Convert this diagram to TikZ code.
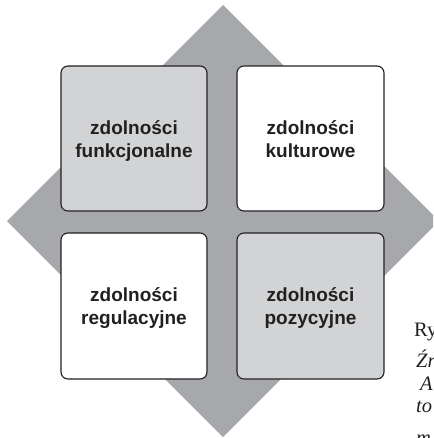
\documentclass[tikz,border=0pt]{standalone}
\usepackage{fontspec}
\setmainfont{Liberation Serif}
\newfontfamily\boxfont{Liberation Sans}
\definecolor{diamondgray}{HTML}{A6A8AB}
\definecolor{boxgray}{HTML}{D1D3D4}
\definecolor{inkdark}{HTML}{231F20}
\begin{document}
\begin{tikzpicture}[x=1pt,y=-1pt,
  cardbox/.style={draw=inkdark,line width=1.1pt,rounded corners=7pt},
  cardlabel/.style={anchor=north,inner sep=0pt,align=center,text=inkdark,
    font=\boxfont\bfseries\fontsize{19}{23}\selectfont},
  captxt/.style={anchor=base west,inner sep=0pt,text=inkdark,font=\fontsize{20.5}{24}\selectfont},
  capit/.style={captxt,font=\itshape\fontsize{20.5}{24}\selectfont}]
\useasboundingbox (0,0) rectangle (433,438);
\clip (0,0) rectangle (433,438);
\fill[diamondgray] (223,5) coordinate (dt) -- (439,221) coordinate (dr) -- (223,437) coordinate (db) -- (7,221) coordinate (dl) -- cycle;
\filldraw[cardbox,fill=boxgray] (61,66) rectangle (207,211);
\filldraw[cardbox,fill=white] (237,66) rectangle (384,211);
\filldraw[cardbox,fill=white] (61,233) rectangle (207,379);
\filldraw[cardbox,fill=boxgray] (237,233) rectangle (384,379);
\node[cardlabel] (tl) at (134,120.5) {zdolności\\funkcjonalne};
\node[cardlabel] (tr) at (310.5,120.5) {zdolności\\kulturowe};
\node[cardlabel] (bl) at (134,287.5) {zdolności\\regulacyjne};
\node[cardlabel] (br) at (310.5,287.5) {zdolności\\pozycyjne};
\node[captxt] (c1) at (414,336) {Ry};
\node[capit] (c2) at (416,367) {Źr};
\node[capit] (c3) at (420,390) {A};
\node[capit] (c4) at (416,412) {to};
\node[capit] (c5) at (416,444) {m};
\end{tikzpicture}
\end{document}
